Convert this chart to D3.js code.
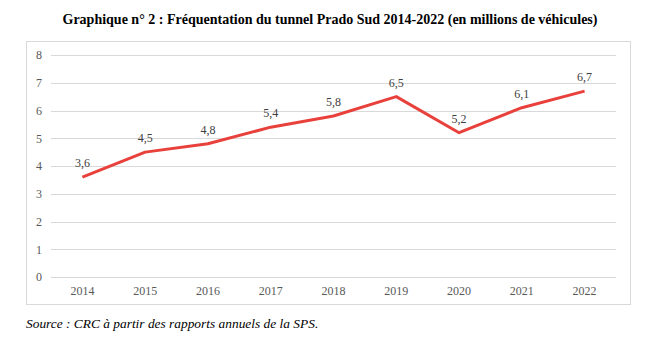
<!DOCTYPE html>
<html>
<head>
<meta charset="utf-8">
<script src="https://cdn.jsdelivr.net/npm/d3@7"></script>
<style>
  body { margin: 0; background: #fff; }
  svg text { font-family: "Liberation Serif", "Times New Roman", serif; }
</style>
</head>
<body>
<svg id="chart"></svg>
<script>
const years = ['2014', '2015', '2016', '2017', '2018', '2019', '2020', '2021', '2022'];
const traffic = [3.6, 4.5, 4.8, 5.4, 5.8, 6.5, 5.2, 6.1, 6.7];
const yTicks = [0, 1, 2, 3, 4, 5, 6, 7, 8];

const width = 658;
const height = 347;
const margin = { top: 55, right: 42, bottom: 70, left: 51 };

const svg = d3.select('#chart')
              .attr('width', width)
              .attr('height', height);

// title
svg.append('text')
   .attr('x', 330)
   .attr('y', 24)
   .attr('text-anchor', 'middle')
   .style('font-size', '14px')
   .style('font-weight', 'bold')
   .style('fill', '#000')
   .text('Graphique n° 2 : Fréquentation du tunnel Prado Sud 2014-2022 (en millions de véhicules)');

// chart frame
svg.append('rect')
   .attr('x', 26.5)
   .attr('y', 41.5)
   .attr('width', 604)
   .attr('height', 263)
   .attr('fill', 'none')
   .attr('stroke', '#d9d9d9')
   .attr('stroke-width', 1);

const xScale = d3.scaleBand()
                 .domain(years)
                 .range([margin.left, width - margin.right]);

const yScale = d3.scaleLinear()
                 .domain([0, 8])
                 .range([height - margin.bottom, margin.top]);

// gridlines
svg.append('g')
   .selectAll('line')
   .data(yTicks)
   .enter()
   .append('line')
   .attr('x1', margin.left)
   .attr('x2', width - margin.right)
   .attr('y1', d => Math.round(yScale(d)) + 0.5)
   .attr('y2', d => Math.round(yScale(d)) + 0.5)
   .attr('stroke', '#d9d9d9')
   .attr('stroke-width', 1);

// y axis labels
const yAxis = svg.append('g')
   .attr('transform', `translate(${margin.left}, 0)`)
   .call(d3.axisLeft(yScale).tickValues(yTicks).tickSize(0).tickPadding(9));
yAxis.select('.domain').remove();
yAxis.selectAll('text')
     .style('font-size', '12px')
     .style('fill', '#595959')
     .style('font-family', '"Liberation Serif", serif');

// x axis labels
const xAxis = svg.append('g')
   .attr('transform', `translate(0, ${height - margin.bottom})`)
   .call(d3.axisBottom(xScale).tickSize(0).tickPadding(9));
xAxis.select('.domain').remove();
xAxis.selectAll('text')
     .style('font-size', '12px')
     .style('fill', '#595959')
     .style('font-family', '"Liberation Serif", serif');

const cx = d => xScale(d) + xScale.bandwidth() / 2;

const line = d3.line()
               .x((d, i) => cx(years[i]))
               .y(d => yScale(d));

svg.append('path')
   .datum(traffic)
   .attr('fill', 'none')
   .attr('stroke', '#e8413c')
   .attr('stroke-width', 3)
   .attr('stroke-linejoin', 'round')
   .attr('d', line);

// data labels
svg.append('g')
   .selectAll('text')
   .data(traffic)
   .enter()
   .append('text')
   .attr('x', (d, i) => cx(years[i]))
   .attr('y', d => yScale(d) - 10)
   .attr('text-anchor', 'middle')
   .style('font-size', '12px')
   .style('fill', '#404040')
   .text(d => d.toFixed(1).replace('.', ','));

// source
svg.append('text')
   .attr('x', 26)
   .attr('y', 328)
   .style('font-size', '13.4px')
   .style('font-style', 'italic')
   .style('fill', '#000')
   .text('Source : CRC à partir des rapports annuels de la SPS.');
</script>
</body>
</html>
